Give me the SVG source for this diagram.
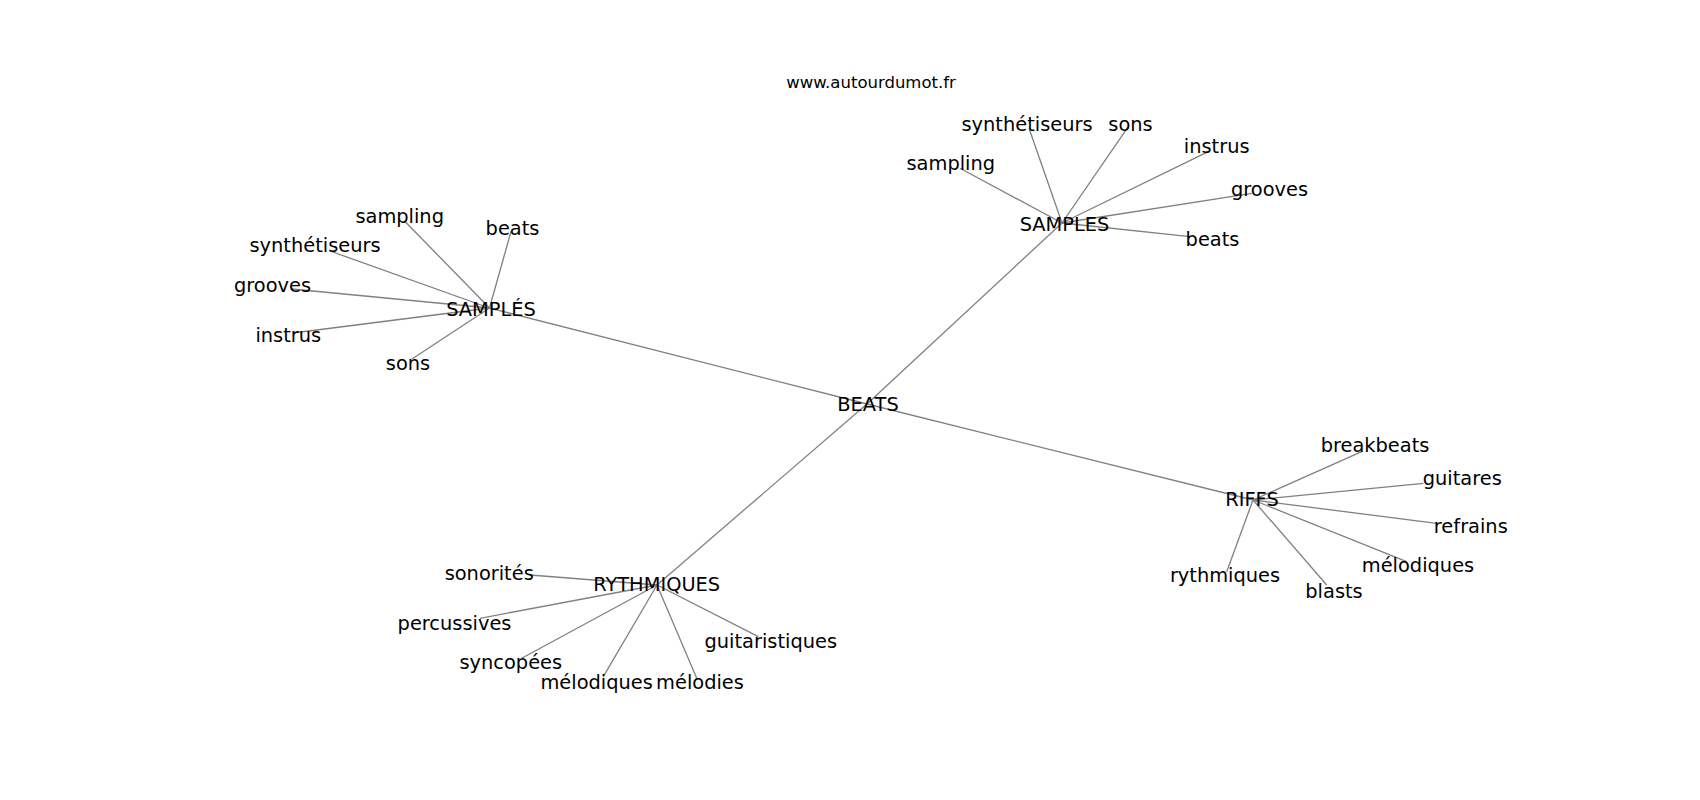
<svg xmlns="http://www.w3.org/2000/svg" width="1700" height="800" viewBox="0 0 1700 800">
<style>
.e{stroke:#808080;stroke-width:1.3;fill:none}
.t{font-family:"DejaVu Sans","Liberation Sans",sans-serif;font-size:19.4px;fill:#000;text-anchor:middle}
.title{font-family:"DejaVu Sans","Liberation Sans",sans-serif;font-size:16.5px;fill:#000;text-anchor:middle}
</style>
<rect width="1700" height="800" fill="#fff"/>
<text class="title" x="871" y="87.8">www.autourdumot.fr</text>
<g id="edges">
<line class="e" x1="867" y1="404" x2="489.5" y2="308"/>
<line class="e" x1="867" y1="404" x2="1062" y2="223"/>
<line class="e" x1="867" y1="404" x2="1253" y2="500"/>
<line class="e" x1="867" y1="404" x2="657" y2="585"/>
<line class="e" x1="489.5" y1="308" x2="405" y2="221.5"/>
<line class="e" x1="489.5" y1="308" x2="511" y2="231.5"/>
<line class="e" x1="489.5" y1="308" x2="330" y2="251"/>
<line class="e" x1="489.5" y1="308" x2="292" y2="289"/>
<line class="e" x1="489.5" y1="308" x2="293" y2="333"/>
<line class="e" x1="489.5" y1="308" x2="412" y2="359"/>
<line class="e" x1="1062" y1="223" x2="1029" y2="128.3"/>
<line class="e" x1="1062" y1="223" x2="1128.3" y2="126.7"/>
<line class="e" x1="1062" y1="223" x2="1208.3" y2="151.7"/>
<line class="e" x1="1062" y1="223" x2="960" y2="168.3"/>
<line class="e" x1="1062" y1="223" x2="1251.7" y2="193.3"/>
<line class="e" x1="1062" y1="223" x2="1190" y2="236.7"/>
<line class="e" x1="1253" y1="500" x2="1361.7" y2="451.7"/>
<line class="e" x1="1253" y1="500" x2="1423.3" y2="483.3"/>
<line class="e" x1="1253" y1="500" x2="1436.7" y2="523.3"/>
<line class="e" x1="1253" y1="500" x2="1406.7" y2="561.7"/>
<line class="e" x1="1253" y1="500" x2="1326.7" y2="585"/>
<line class="e" x1="1253" y1="500" x2="1226.7" y2="571.7"/>
<line class="e" x1="657" y1="585" x2="530" y2="575"/>
<line class="e" x1="657" y1="585" x2="480" y2="618.3"/>
<line class="e" x1="657" y1="585" x2="521.7" y2="658.3"/>
<line class="e" x1="657" y1="585" x2="603.3" y2="676.7"/>
<line class="e" x1="657" y1="585" x2="696.7" y2="678.3"/>
<line class="e" x1="657" y1="585" x2="758.3" y2="636.7"/>
</g>
<g id="n-beats"><text class="t" x="868" y="410.7">BEATS</text></g>
<g id="n-samples-acc"><text class="t" x="491" y="315.7">SAMPLÉS</text></g>
<g id="n-samples"><text class="t" x="1064.5" y="230.7">SAMPLES</text></g>
<g id="n-riffs"><text class="t" x="1252" y="506.4">RIFFS</text></g>
<g id="n-rythmiques"><text class="t" x="656.7" y="591.4">RYTHMIQUES</text></g>
<g id="n-a-sampling"><text class="t" x="399.7" y="223.4">sampling</text></g>
<g id="n-a-beats"><text class="t" x="512.5" y="235">beats</text></g>
<g id="n-a-synth"><text class="t" x="315" y="251.7">synthétiseurs</text></g>
<g id="n-a-grooves"><text class="t" x="272.5" y="292.4">grooves</text></g>
<g id="n-a-instrus"><text class="t" x="288.3" y="341.7">instrus</text></g>
<g id="n-a-sons"><text class="t" x="408" y="369.7">sons</text></g>
<g id="n-b-synth"><text class="t" x="1027" y="130.7">synthétiseurs</text></g>
<g id="n-b-sons"><text class="t" x="1130.5" y="130.7">sons</text></g>
<g id="n-b-instrus"><text class="t" x="1216.7" y="153.4">instrus</text></g>
<g id="n-b-sampling"><text class="t" x="950.8" y="169.7">sampling</text></g>
<g id="n-b-grooves"><text class="t" x="1269.5" y="196">grooves</text></g>
<g id="n-b-beats"><text class="t" x="1212.5" y="245.5">beats</text></g>
<g id="n-r-breakbeats"><text class="t" x="1375" y="452.4">breakbeats</text></g>
<g id="n-r-guitares"><text class="t" x="1462.3" y="485">guitares</text></g>
<g id="n-r-refrains"><text class="t" x="1470.8" y="533.4">refrains</text></g>
<g id="n-r-melodiques"><text class="t" x="1418" y="572.4">mélodiques</text></g>
<g id="n-r-blasts"><text class="t" x="1334" y="597.6">blasts</text></g>
<g id="n-r-rythmiques"><text class="t" x="1225" y="582.4">rythmiques</text></g>
<g id="n-y-sonorites"><text class="t" x="489.2" y="580">sonorités</text></g>
<g id="n-y-percussives"><text class="t" x="454.5" y="629.7">percussives</text></g>
<g id="n-y-syncopees"><text class="t" x="510.8" y="669">syncopées</text></g>
<g id="n-y-melodiques"><text class="t" x="596.7" y="689">mélodiques</text></g>
<g id="n-y-melodies"><text class="t" x="700" y="689">mélodies</text></g>
<g id="n-y-guitaristiques"><text class="t" x="770.8" y="648">guitaristiques</text></g>
</svg>
